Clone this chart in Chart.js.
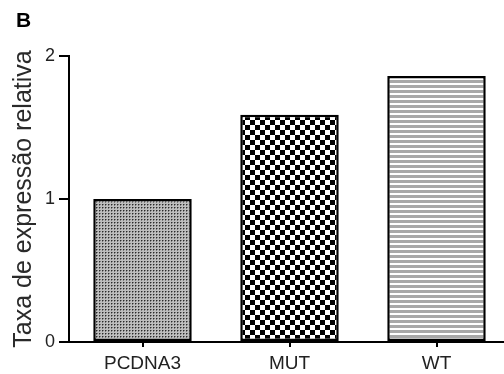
<!DOCTYPE html>
<html>
<head>
<meta charset="utf-8">
<script src="https://cdn.jsdelivr.net/npm/chart.js@4"></script>
<style>
  html, body { margin: 0; padding: 0; background: #fff; overflow: hidden; width: 504px; height: 374px; }
  #wrap { position: absolute; left: 0; top: 0; width: 510px; height: 374px; }
</style>
</head>
<body>
<div id="wrap"><canvas id="c" width="510" height="374"></canvas></div>
<script>
// ---- data ----
const categories = ["PCDNA3", "MUT", "WT"];
const values = [1.0, 1.59, 1.86];
const yTicks = [0, 1, 2];
const yTitle = "Taxa de expressão relativa";
const panelLabel = "B";

// ---- patterns ----
function makePattern(w, h, draw) {
  const c = document.createElement('canvas');
  c.width = w; c.height = h;
  const x = c.getContext('2d');
  draw(x);
  return x.createPattern(c, 'repeat');
}
const ctxMain = document.getElementById('c').getContext('2d');
const patDots = makePattern(3, 3, x => {
  x.fillStyle = '#bdbdbd'; x.fillRect(0, 0, 3, 3);
  x.fillStyle = '#2a2a2a'; x.fillRect(0, 0, 1, 1);
  x.fillStyle = '#7a7a7a'; x.fillRect(1, 0, 1, 1); x.fillRect(0, 1, 1, 1);
});
const patChecker = makePattern(10, 10, x => {
  x.fillStyle = '#ffffff'; x.fillRect(0, 0, 10, 10);
  x.fillStyle = '#000000'; x.fillRect(0, 0, 5, 5); x.fillRect(5, 5, 5, 5);
});
const patStripes = makePattern(5, 5, x => {
  x.fillStyle = '#ffffff'; x.fillRect(0, 0, 5, 5);
  x.fillStyle = '#a8a8a8'; x.fillRect(0, 0, 5, 3);
});

const panelPlugin = {
  id: 'panel',
  afterDraw(chart) {
    const g = chart.ctx;
    g.save();
    g.fillStyle = '#000';
    g.font = 'bold 21px "Liberation Sans", Arial, sans-serif';
    g.textBaseline = 'alphabetic';
    g.textAlign = 'left';
    g.fillText(panelLabel, 16, 27);
    g.restore();
  }
};

new Chart(ctxMain, {
  type: 'bar',
  data: {
    labels: categories,
    datasets: [{
      data: values,
      backgroundColor: [patDots, patChecker, patStripes],
      borderColor: '#000',
      borderWidth: 2.5,
      borderSkipped: false,
      categoryPercentage: 1.0,
      barPercentage: 0.67
    }]
  },
  options: {
    responsive: false,
    animation: false,
    devicePixelRatio: 1,
    layout: { padding: { top: 56, right: 0, left: 0, bottom: 0 } },
    plugins: { legend: { display: false }, tooltip: { enabled: false } },
    scales: {
      x: {
        grid: { display: true, drawOnChartArea: false, offset: false, tickLength: 5, color: '#000', lineWidth: 2 },
        border: { display: true, color: '#000', width: 2 },
        ticks: { color: '#222', padding: 5, font: { family: '"Liberation Sans", Arial, sans-serif', size: 19 } },
        afterFit(s) { s.height = 32; }
      },
      y: {
        min: 0, max: 2,
        afterBuildTicks(s) { s.ticks = yTicks.map(v => ({ value: v })); },
        grid: { display: true, drawOnChartArea: false, tickLength: 10, color: '#000', lineWidth: 2 },
        border: { display: true, color: '#000', width: 2 },
        ticks: { color: '#222', padding: 4, font: { family: '"Liberation Sans", Arial, sans-serif', size: 18 } },
        title: {
          display: true, text: yTitle, color: '#2a2a2a',
          font: { family: '"Liberation Sans", Arial, sans-serif', size: 25, lineHeight: 1 },
          padding: { top: 12, bottom: 0 }
        },
        afterFit(s) { s.width = 69; }
      }
    }
  },
  plugins: [panelPlugin]
});
</script>
</body>
</html>
